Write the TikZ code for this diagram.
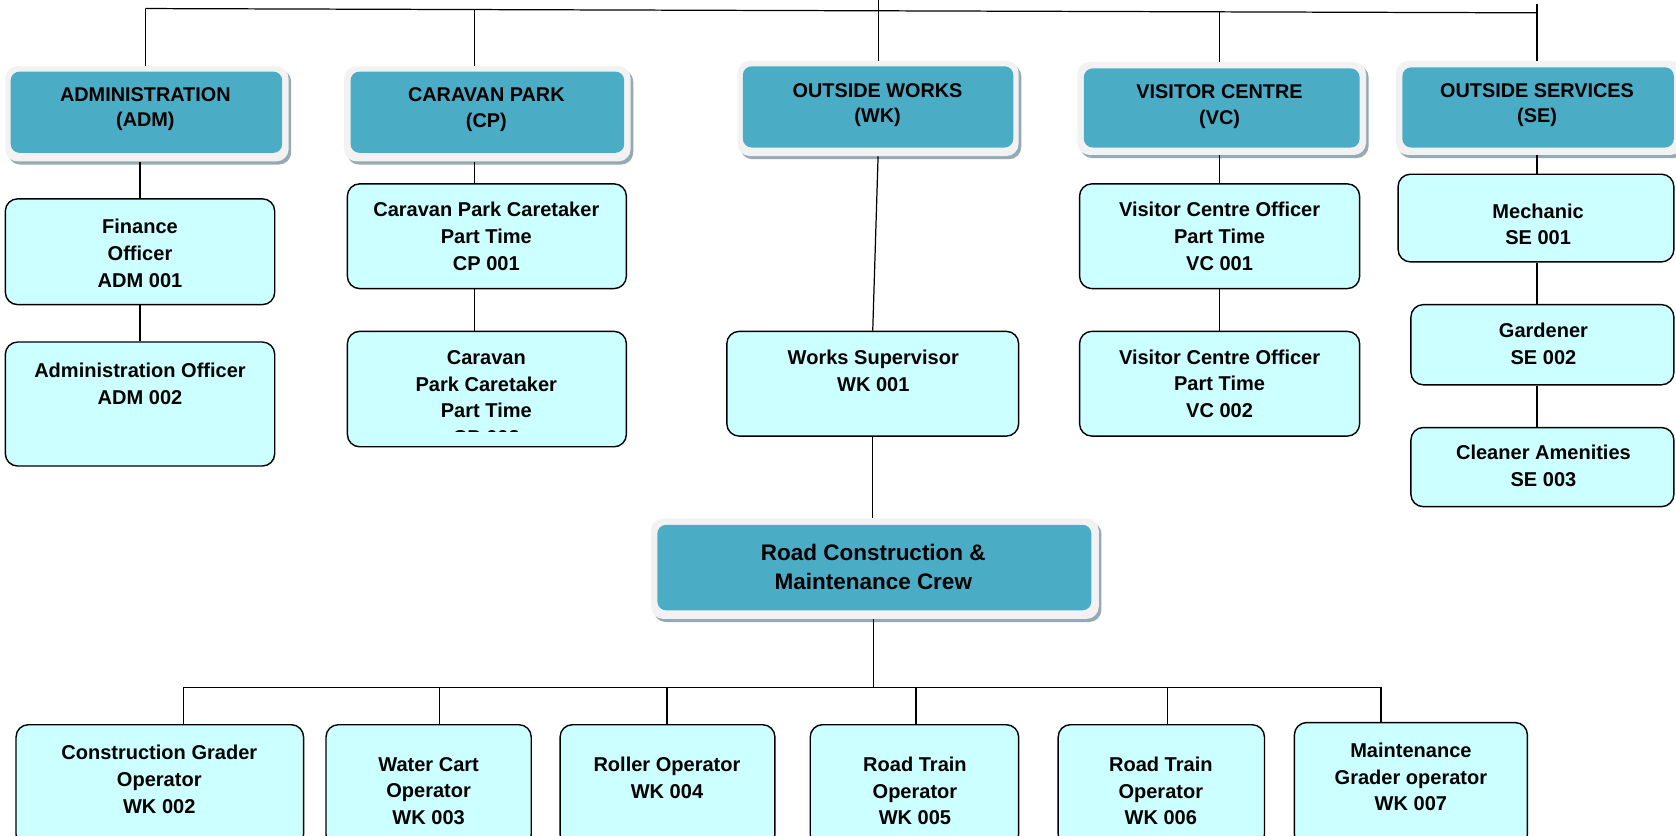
\documentclass[tikz,border=0pt]{standalone}
\usepackage{fontspec}
\setmainfont{Liberation Sans}
\usetikzlibrary{fit}
\usetikzlibrary{shadows}
\definecolor{headteal}{HTML}{4BACC6}
\definecolor{headframe}{HTML}{F2F2F2}
\definecolor{headshadow}{HTML}{95AAB4}
\definecolor{postfill}{HTML}{CCFFFF}
\newcommand{\headfont}{\bfseries\fontsize{11.3}{14.6}\selectfont}
\newcommand{\postfont}{\bfseries\fontsize{11.4}{15.2}\selectfont}
\newcommand{\crewfont}{\bfseries\fontsize{12.8}{16.4}\selectfont}
\tikzstyle{hframe}=[inner sep=0pt, fill=headframe, rounded corners=7pt, drop shadow={shadow xshift=1.5pt, shadow yshift=-1.8pt, fill=headshadow, opacity=1}]
\tikzstyle{head}=[inner sep=0pt, fill=headteal, rounded corners=5pt]
\tikzstyle{htext}=[inner sep=0pt, align=center, font=\headfont]
\tikzstyle{crewtext}=[htext, font=\crewfont]
\tikzstyle{post}=[inner sep=0pt, draw, line width=0.8pt, fill=postfill, rounded corners=7pt]
\tikzstyle{ptext}=[inner sep=0pt, align=center, font=\postfont]
\tikzstyle{link}=[line width=0.7pt]

\begin{document}
\begin{tikzpicture}[x=0.021379cm, y=-0.021379cm]
    \useasboundingbox (0,0) rectangle (1568,782);
    \clip (0,0) rectangle (1568,782);
    \fill[white] (0,0) rectangle (1568,782);

    \node[hframe, fit={(5,62) (270,151)}]    (adm-f) {};
    \node[head, fit={(10,67) (264,143)}]     (adm) {};
    \node[htext] (adm-t) at (136,102) {ADMINISTRATION\\(ADM)};
    \node[hframe, fit={(322,62) (590,151)}]  (cp-f) {};
    \node[head, fit={(328,67) (584,143)}]    (cp) {};
    \node[htext] (cp-t) at (455,102.5) {CARAVAN PARK\\(CP)};
    \node[hframe, fit={(690,57) (953,146)}]  (wk-f) {};
    \node[head, fit={(695,62) (948,138)}]    (wk) {};
    \node[htext] (wk-t) at (821,98.5) {OUTSIDE WORKS\\(WK)};
    \node[hframe, fit={(1008,58) (1278,145)}] (vc-f) {};
    \node[head, fit={(1014,64) (1272,138)}]  (vc) {};
    \node[htext] (vc-t) at (1141,100) {VISITOR CENTRE\\(VC)};
    \node[hframe, fit={(1306,57) (1574,145)}] (se-f) {};
    \node[head, fit={(1312,63) (1566,138)}]  (se) {};
    \node[htext] (se-t) at (1438,98.5) {OUTSIDE SERVICES\\(SE)};

    \node[post, fit={(5,186) (257,285)}]     (adm1) {};
    \node[ptext] (adm1-t) at (131,237) {Finance\\Officer\\ADM 001};
    \node[post, fit={(5,320) (257,436)}]     (adm2) {};
    \node[ptext] (adm2-t) at (131,359) {Administration Officer\\ADM 002};

    \node[post, fit={(325,172) (586,270)}]   (cp1) {};
    \node[ptext] (cp1-t) at (455,221) {Caravan Park Caretaker\\Part Time\\CP 001};
    \node[post, fit={(325,310) (586,418)}]   (cp2) {};
    \begin{scope}
        \clip (325,310) rectangle (586,404);
        \node[ptext] (cp2-t) at (455,372) {Caravan\\Park Caretaker\\Part Time\\CP 002};
    \end{scope}

    \node[post, fit={(680,310) (953,408)}]   (ws) {};
    \node[ptext] (ws-t) at (817,347) {Works Supervisor\\WK 001};

    \node[post, fit={(1010,172) (1272,270)}] (vc1) {};
    \node[ptext] (vc1-t) at (1141,221) {Visitor Centre Officer\\Part Time\\VC 001};
    \node[post, fit={(1010,310) (1272,408)}] (vc2) {};
    \node[ptext] (vc2-t) at (1141,359) {Visitor Centre Officer\\Part Time\\VC 002};

    \node[post, fit={(1308,163) (1566,245)}] (se1) {};
    \node[ptext] (se1-t) at (1439,210) {Mechanic\\SE 001};
    \node[post, fit={(1320,285) (1566,360)}] (se2) {};
    \node[ptext] (se2-t) at (1444,322) {Gardener\\SE 002};
    \node[post, fit={(1320,400) (1566,474)}] (se3) {};
    \node[ptext] (se3-t) at (1444,436) {Cleaner Amenities\\SE 003};

    \node[hframe, fit={(609,485) (1028,579)}] (crew-f) {};
    \node[head, fit={(615,491) (1021,571)}]   (crew) {};
    \node[crewtext] (crew-t) at (817,530.5) {Road Construction \&\\Maintenance Crew};

    \node[post, fit={(15,678) (284,792)}]    (wk2) {};
    \node[ptext] (wk2-t) at (149,729) {Construction Grader\\Operator\\WK 002};
    \node[post, fit={(305,678) (497,792)}]   (wk3) {};
    \node[ptext] (wk3-t) at (401,740) {Water Cart\\Operator\\WK 003};
    \node[post, fit={(524,678) (725,792)}]   (wk4) {};
    \node[ptext] (wk4-t) at (624,728) {Roller Operator\\WK 004};
    \node[post, fit={(758,678) (953,792)}]   (wk5) {};
    \node[ptext] (wk5-t) at (856,740) {Road Train\\Operator\\WK 005};
    \node[post, fit={(990,678) (1183,792)}]  (wk6) {};
    \node[ptext] (wk6-t) at (1086,740) {Road Train\\Operator\\WK 006};
    \node[post, fit={(1211,676) (1429,792)}] (wk7) {};
    \node[ptext] (wk7-t) at (1320,727) {Maintenance\\Grader operator\\WK 007};

    \coordinate (bus-adm) at (136,8);
    \coordinate (bus-cp)  at (444,9);
    \coordinate (bus-wk)  at (822,0);
    \coordinate (bus-vc)  at (1141,11);
    \coordinate (bus-se)  at (1438,4);
    \coordinate (bus-end) at (1438,12);
    \draw[link] (bus-adm) -- (bus-end);
    \draw[link] (bus-adm) -- (bus-adm |- adm-f.north);
    \draw[link] (bus-cp) -- (bus-cp |- cp-f.north);
    \draw[link] (bus-wk) -- (bus-wk |- wk-f.north);
    \draw[link] (bus-vc) -- (bus-vc |- vc-f.north);
    \draw[link] (bus-se) -- (bus-se |- se-f.north);

    \draw[link] (adm1.north |- adm-f.south) -- (adm1.north);
    \draw[link] (adm1.south) -- (adm2.north);
    \draw[link] (bus-cp |- cp-f.south) -- (bus-cp |- cp1.north);
    \draw[link] (bus-cp |- cp1.south) -- (bus-cp |- cp2.north);
    \draw[link] (wk-f.south) -- (ws.north);
    \draw[link] (ws.south) -- (ws.south |- crew-f.north);
    \draw[link] (vc1.north |- vc-f.south) -- (vc1.north);
    \draw[link] (vc1.south) -- (vc2.north);
    \draw[link] (bus-se |- se-f.south) -- (bus-se |- se1.north);
    \draw[link] (bus-se |- se1.south) -- (bus-se |- se2.north);
    \draw[link] (bus-se |- se2.south) -- (bus-se |- se3.north);

    \coordinate (crew-bus) at (817,643);
    \coordinate (bus-wk2) at (172,643);
    \coordinate (bus-wk3) at (411,643);
    \coordinate (bus-wk4) at (624,643);
    \coordinate (bus-wk5) at (857,643);
    \coordinate (bus-wk6) at (1092,643);
    \coordinate (bus-wk7) at (1292,643);
    \draw[link] (crew-bus |- crew-f.south) -- (crew-bus);
    \draw[link] (bus-wk2) -- (bus-wk7);
    \foreach \n in {2,...,7}
        \draw[link] (bus-wk\n) -- (bus-wk\n |- wk\n.north);
\end{tikzpicture}
\end{document}
